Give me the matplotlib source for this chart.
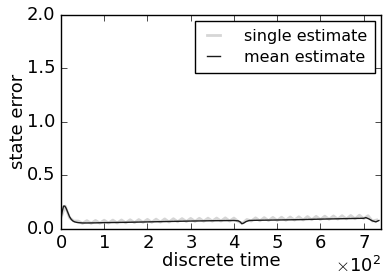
import numpy as np
import matplotlib
matplotlib.use("Agg")
import matplotlib.pyplot as plt

# mean estimate
t_mean = [0, 3, 6, 9, 12, 16, 20, 24, 28, 32, 36, 40, 50, 60, 80, 100, 150, 200, 250,
          300, 350, 400, 410, 415, 418, 422, 428, 435, 450, 500, 550, 600, 650,
          700, 705, 712, 720, 728, 735]
v_mean = [0.09, 0.16, 0.21, 0.21, 0.19, 0.15, 0.11, 0.085, 0.07, 0.062, 0.058, 0.055,
          0.052, 0.052, 0.053, 0.055, 0.058, 0.062, 0.066, 0.07, 0.073, 0.075, 0.072,
          0.06, 0.045, 0.05, 0.065, 0.075, 0.077, 0.08, 0.083, 0.088, 0.092, 0.096,
          0.102, 0.09, 0.072, 0.062, 0.075]

# single estimate (noisy band around the mean)
t_single = list(range(0, 740, 10))
v_single = [0.1, 0.21, 0.1, 0.07,
            0.07, 0.048, 0.074, 0.048, 0.076, 0.05, 0.078, 0.051, 0.079, 0.052,
            0.08, 0.053, 0.082, 0.055, 0.084, 0.057, 0.086, 0.058, 0.088, 0.06,
            0.09, 0.061, 0.092, 0.063, 0.093, 0.065, 0.095, 0.066, 0.096, 0.068,
            0.097, 0.069, 0.098, 0.07, 0.1, 0.07, 0.098, 0.065, 0.05, 0.085,
            0.07, 0.1, 0.072, 0.102, 0.074, 0.104, 0.075, 0.106, 0.077, 0.108,
            0.079, 0.11, 0.08, 0.112, 0.082, 0.114, 0.084, 0.116, 0.086, 0.118,
            0.088, 0.12, 0.09, 0.122, 0.091, 0.125, 0.092, 0.12, 0.07, 0.08]

plt.style.use("classic")
fig = plt.figure(figsize=(3.88, 2.77), dpi=100)
fig.patch.set_facecolor("white")
ax = fig.add_axes([0.157, 0.175, 0.825, 0.771])

ax.plot(t_single, v_single, color="0.84", lw=2, label="single estimate")
ax.plot(t_mean, v_mean, color="0.1", lw=1, label="mean estimate")

ax.set_xlim(0, 740)
ax.set_ylim(0, 2.0)
ax.set_yticks([0, 0.5, 1.0, 1.5, 2.0])
ax.ticklabel_format(axis="x", style="sci", scilimits=(0, 0), useMathText=True)
ax.tick_params(labelsize=13)
ax.xaxis.get_offset_text().set_fontsize(13)
ax.set_xlabel("discrete time", fontsize=13, labelpad=0)
ax.set_ylabel("state error", fontsize=13, labelpad=0)
ax.legend(loc="upper right", fontsize=11.5, frameon=True, fancybox=False,
          handlelength=1.4, handletextpad=1.2, borderpad=0.5,
          labelspacing=0.4, borderaxespad=0.35)

plt.savefig("out.png", dpi=100)
